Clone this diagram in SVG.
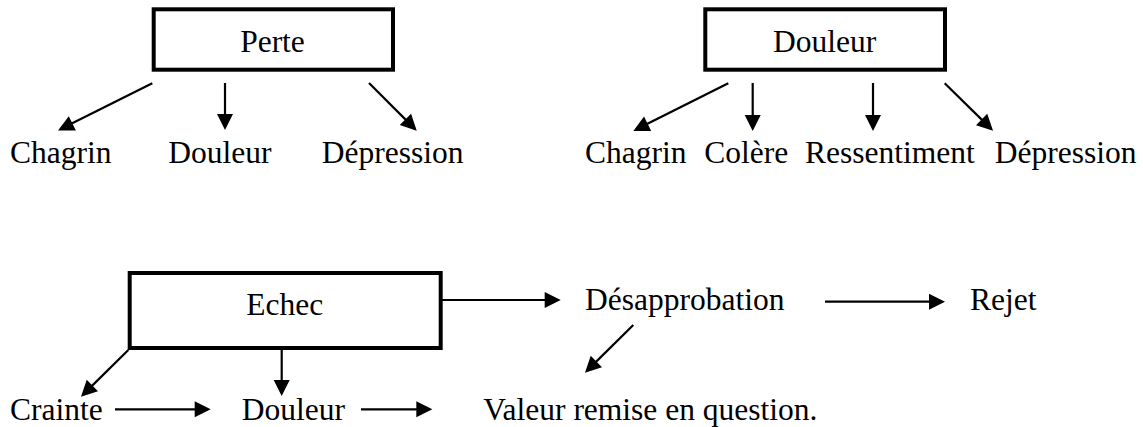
<svg xmlns="http://www.w3.org/2000/svg" width="1143" height="427" viewBox="0 0 1143 427">
  <style>
    .box { fill: #ffffff; stroke: #000000; stroke-width: 4; }
    .lbl { font-family: "Liberation Serif", "Times New Roman", serif; font-size: 31.5px; fill: #000000; }
    .mid { text-anchor: middle; }
    .edge { stroke: #000000; stroke-width: 2.2; fill: none; marker-end: url(#arrow); }
  </style>
  <defs>
    <marker id="arrow" markerUnits="userSpaceOnUse" markerWidth="17" markerHeight="16" refX="13" refY="8" orient="auto" overflow="visible">
      <path d="M0,0 L16,8 L0,16 z" fill="#000000"/>
    </marker>
  </defs>
  <rect width="1143" height="427" fill="#ffffff"/>

  <!-- Perte tree -->
  <g id="node-perte">
    <rect class="box" x="153.7" y="9.3" width="239.3" height="60.4"/>
    <text class="lbl mid" x="272.5" y="52">Perte</text>
  </g>
  <g id="node-perte-chagrin"><text class="lbl" x="10" y="163">Chagrin</text></g>
  <g id="node-perte-douleur"><text class="lbl" x="168.3" y="163">Douleur</text></g>
  <g id="node-perte-depression"><text class="lbl" x="321.7" y="163">Dépression</text></g>

  <!-- Douleur tree -->
  <g id="node-douleur">
    <rect class="box" x="705.3" y="9.3" width="239.7" height="60.4"/>
    <text class="lbl mid" x="824.7" y="52">Douleur</text>
  </g>
  <g id="node-douleur-chagrin"><text class="lbl" x="585" y="163">Chagrin</text></g>
  <g id="node-douleur-colere"><text class="lbl" x="704.3" y="163">Colère</text></g>
  <g id="node-douleur-ressentiment"><text class="lbl" x="805" y="163">Ressentiment</text></g>
  <g id="node-douleur-depression"><text class="lbl" x="994.7" y="163">Dépression</text></g>

  <!-- Echec chain -->
  <g id="node-echec">
    <rect class="box" x="129.7" y="273" width="311" height="75"/>
    <text class="lbl mid" x="284.7" y="315">Echec</text>
  </g>
  <g id="node-desapprobation"><text class="lbl" x="585" y="310">Désapprobation</text></g>
  <g id="node-rejet"><text class="lbl" x="970" y="310">Rejet</text></g>
  <g id="node-crainte"><text class="lbl" x="10" y="420">Crainte</text></g>
  <g id="node-echec-douleur"><text class="lbl" x="241.7" y="420">Douleur</text></g>
  <g id="node-valeur"><text class="lbl" x="483.3" y="420">Valeur remise en question.</text></g>

  <g id="connectors">
    <!-- Perte -->
    <line class="edge" x1="152.3" y1="83.3" x2="60.7" y2="129.1"/>
    <line class="edge" x1="225" y1="83" x2="225" y2="127"/>
    <line class="edge" x1="369" y1="83" x2="414.6" y2="128.6"/>
    <!-- Douleur -->
    <line class="edge" x1="728.3" y1="83.3" x2="636" y2="129.6"/>
    <line class="edge" x1="752.7" y1="83" x2="752.7" y2="128"/>
    <line class="edge" x1="873" y1="83" x2="873" y2="128"/>
    <line class="edge" x1="944.7" y1="83.3" x2="990.9" y2="128.6"/>
    <!-- Echec -->
    <line class="edge" x1="128.3" y1="350" x2="83.1" y2="394.6"/>
    <line class="edge" x1="281.7" y1="350" x2="281.7" y2="393"/>
    <line class="edge" x1="115" y1="409.3" x2="207.7" y2="409.3"/>
    <line class="edge" x1="361" y1="409.3" x2="429.3" y2="409.3"/>
    <line class="edge" x1="441.7" y1="300" x2="557.7" y2="300"/>
    <line class="edge" x1="633.3" y1="325" x2="587.1" y2="370.6"/>
    <line class="edge" x1="825" y1="301.7" x2="942" y2="301.7"/>
  </g>
</svg>
